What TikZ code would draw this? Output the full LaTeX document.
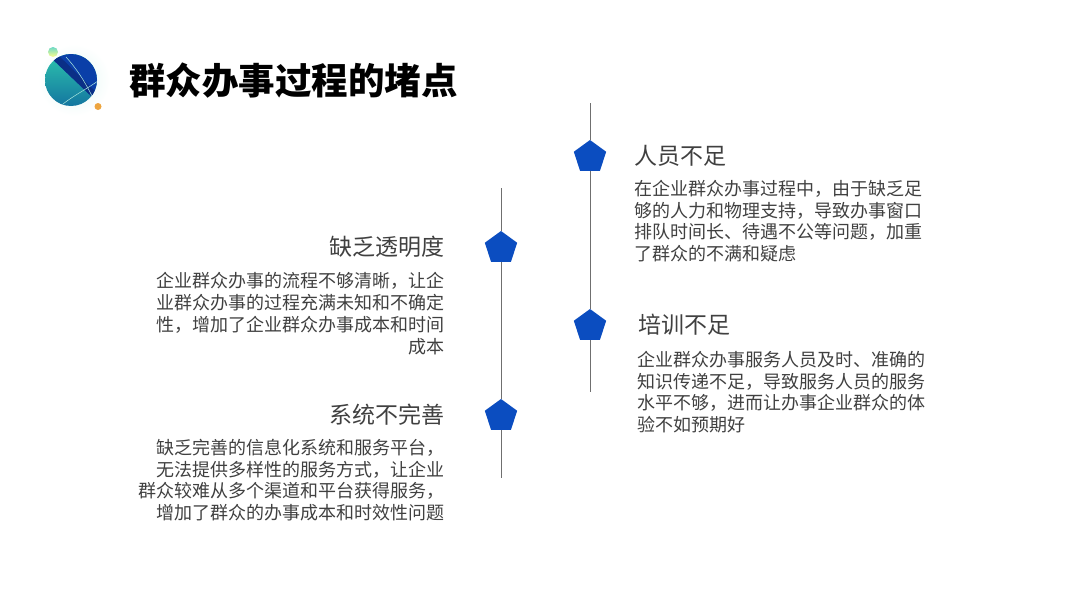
\documentclass[tikz,border=0pt]{standalone}
\usepackage{fontspec}
\setmainfont{Noto Sans CJK SC}
\usetikzlibrary{positioning}
\usetikzlibrary{shapes.geometric}
\definecolor{penta}{HTML}{0B4DC0}
\definecolor{stem}{HTML}{6F6F6F}
\definecolor{bodytext}{HTML}{404040}
\definecolor{logoblue}{HTML}{0A3FA8}
\definecolor{logonavy}{HTML}{0B2F86}
\definecolor{logoteal}{HTML}{2FC9AE}
\definecolor{logosea}{HTML}{11709F}
\definecolor{logodot}{HTML}{EDA53F}
\tikzstyle{pentaS} = [regular polygon, regular polygon sides=5, minimum size=34pt, inner sep=0pt, fill=penta]
\tikzstyle{headS} = [inner sep=0pt, yshift=1.5pt, text=bodytext, font=\fontsize{23}{27}\selectfont]
\tikzstyle{bodyS} = [inner sep=0pt, text=bodytext, font=\fontsize{18}{21.7}\selectfont]
\tikzstyle{stemline} = [draw=stem, line width=1pt]

\begin{document}
\begin{tikzpicture}[x=1pt, y=-1pt]
    \useasboundingbox (0,0) rectangle (1080,608);

    % logo
    \shade [inner color=logoteal!14, outer color=white] (74,80) circle (36);
    \shade [top color=logoteal!70, bottom color=yellow!45!white] (53,52) circle (5);
    \fill [logodot] (98,106.5) circle (3.5);
    \begin{scope}
      \clip (71,80) circle (26);
      \shade [top color=logoteal, bottom color=logosea] (40,50) rectangle (102,110);
      \fill [logoblue] (45,52) -- (50,47) -- (105,47) -- (105,104) -- (100,104.5) -- cycle;
      \fill [logonavy] (45,52) -- (50,47) -- (105,101) -- (100,104.5) -- cycle;
      \draw [white!60!logoteal, line width=0.5pt] (66,57) .. controls (76,68) and (84,80) .. (92,96);
      \draw [white!60!logoteal, line width=0.5pt] (63,104) .. controls (73,96) and (85,90) .. (98,81);
    \end{scope}
    \node [inner sep=0pt, font=\fontsize{36.5}{40}\selectfont\bfseries] (title) at (293.5,81) {群众办事过程的堵点};

    % right stem
    \coordinate (rtop) at (590,103);
    \coordinate (rbot) at (590,392);
    \node [pentaS] (p1) at (590,157) {};
    \node [pentaS] (p2) at (590,326) {};
    \draw [stemline] (rtop) -- (p1);
    \draw [stemline] (p1) -- (p2);
    \draw [stemline] (p2) -- (rbot);

    % left stem
    \coordinate (ltop) at (501,188);
    \coordinate (lbot) at (501,478);
    \node [pentaS] (p3) at (501,248) {};
    \node [pentaS] (p4) at (501,416) {};
    \draw [stemline] (ltop) -- (p3);
    \draw [stemline] (p3) -- (p4);
    \draw [stemline] (p4) -- (lbot);

    \node [headS, right=30pt of p1] (h1) {人员不足};
    \node [bodyS, anchor=north west, align=left] (b1) at (634,180) {在企业群众办事过程中，由于缺乏足\\够的人力和物理支持，导致办事窗口\\排队时间长、待遇不公等问题，加重\\了群众的不满和疑虑};
    \node [headS, right=33.5pt of p2] (h2) {培训不足};
    \node [bodyS, anchor=north west, align=left] (b2) at (637,351) {企业群众办事服务人员及时、准确的\\知识传递不足，导致服务人员的服务\\水平不够，进而让办事企业群众的体\\验不如预期好};
    \node [headS, left=41.5pt of p3] (h3) {缺乏透明度};
    \node [bodyS, anchor=north east, align=right] (b3) at (444.5,272.5) {企业群众办事的流程不够清晰，让企\\业群众办事的过程充满未知和不确定\\性，增加了企业群众办事成本和时间\\成本};
    \node [headS, left=41.5pt of p4] (h4) {系统不完善};
    \node [bodyS, anchor=north east, align=right] (b4) at (444.5,439) {缺乏完善的信息化系统和服务平台，\\无法提供多样性的服务方式，让企业\\群众较难从多个渠道和平台获得服务，\\增加了群众的办事成本和时效性问题};
  \end{tikzpicture}
\end{document}
